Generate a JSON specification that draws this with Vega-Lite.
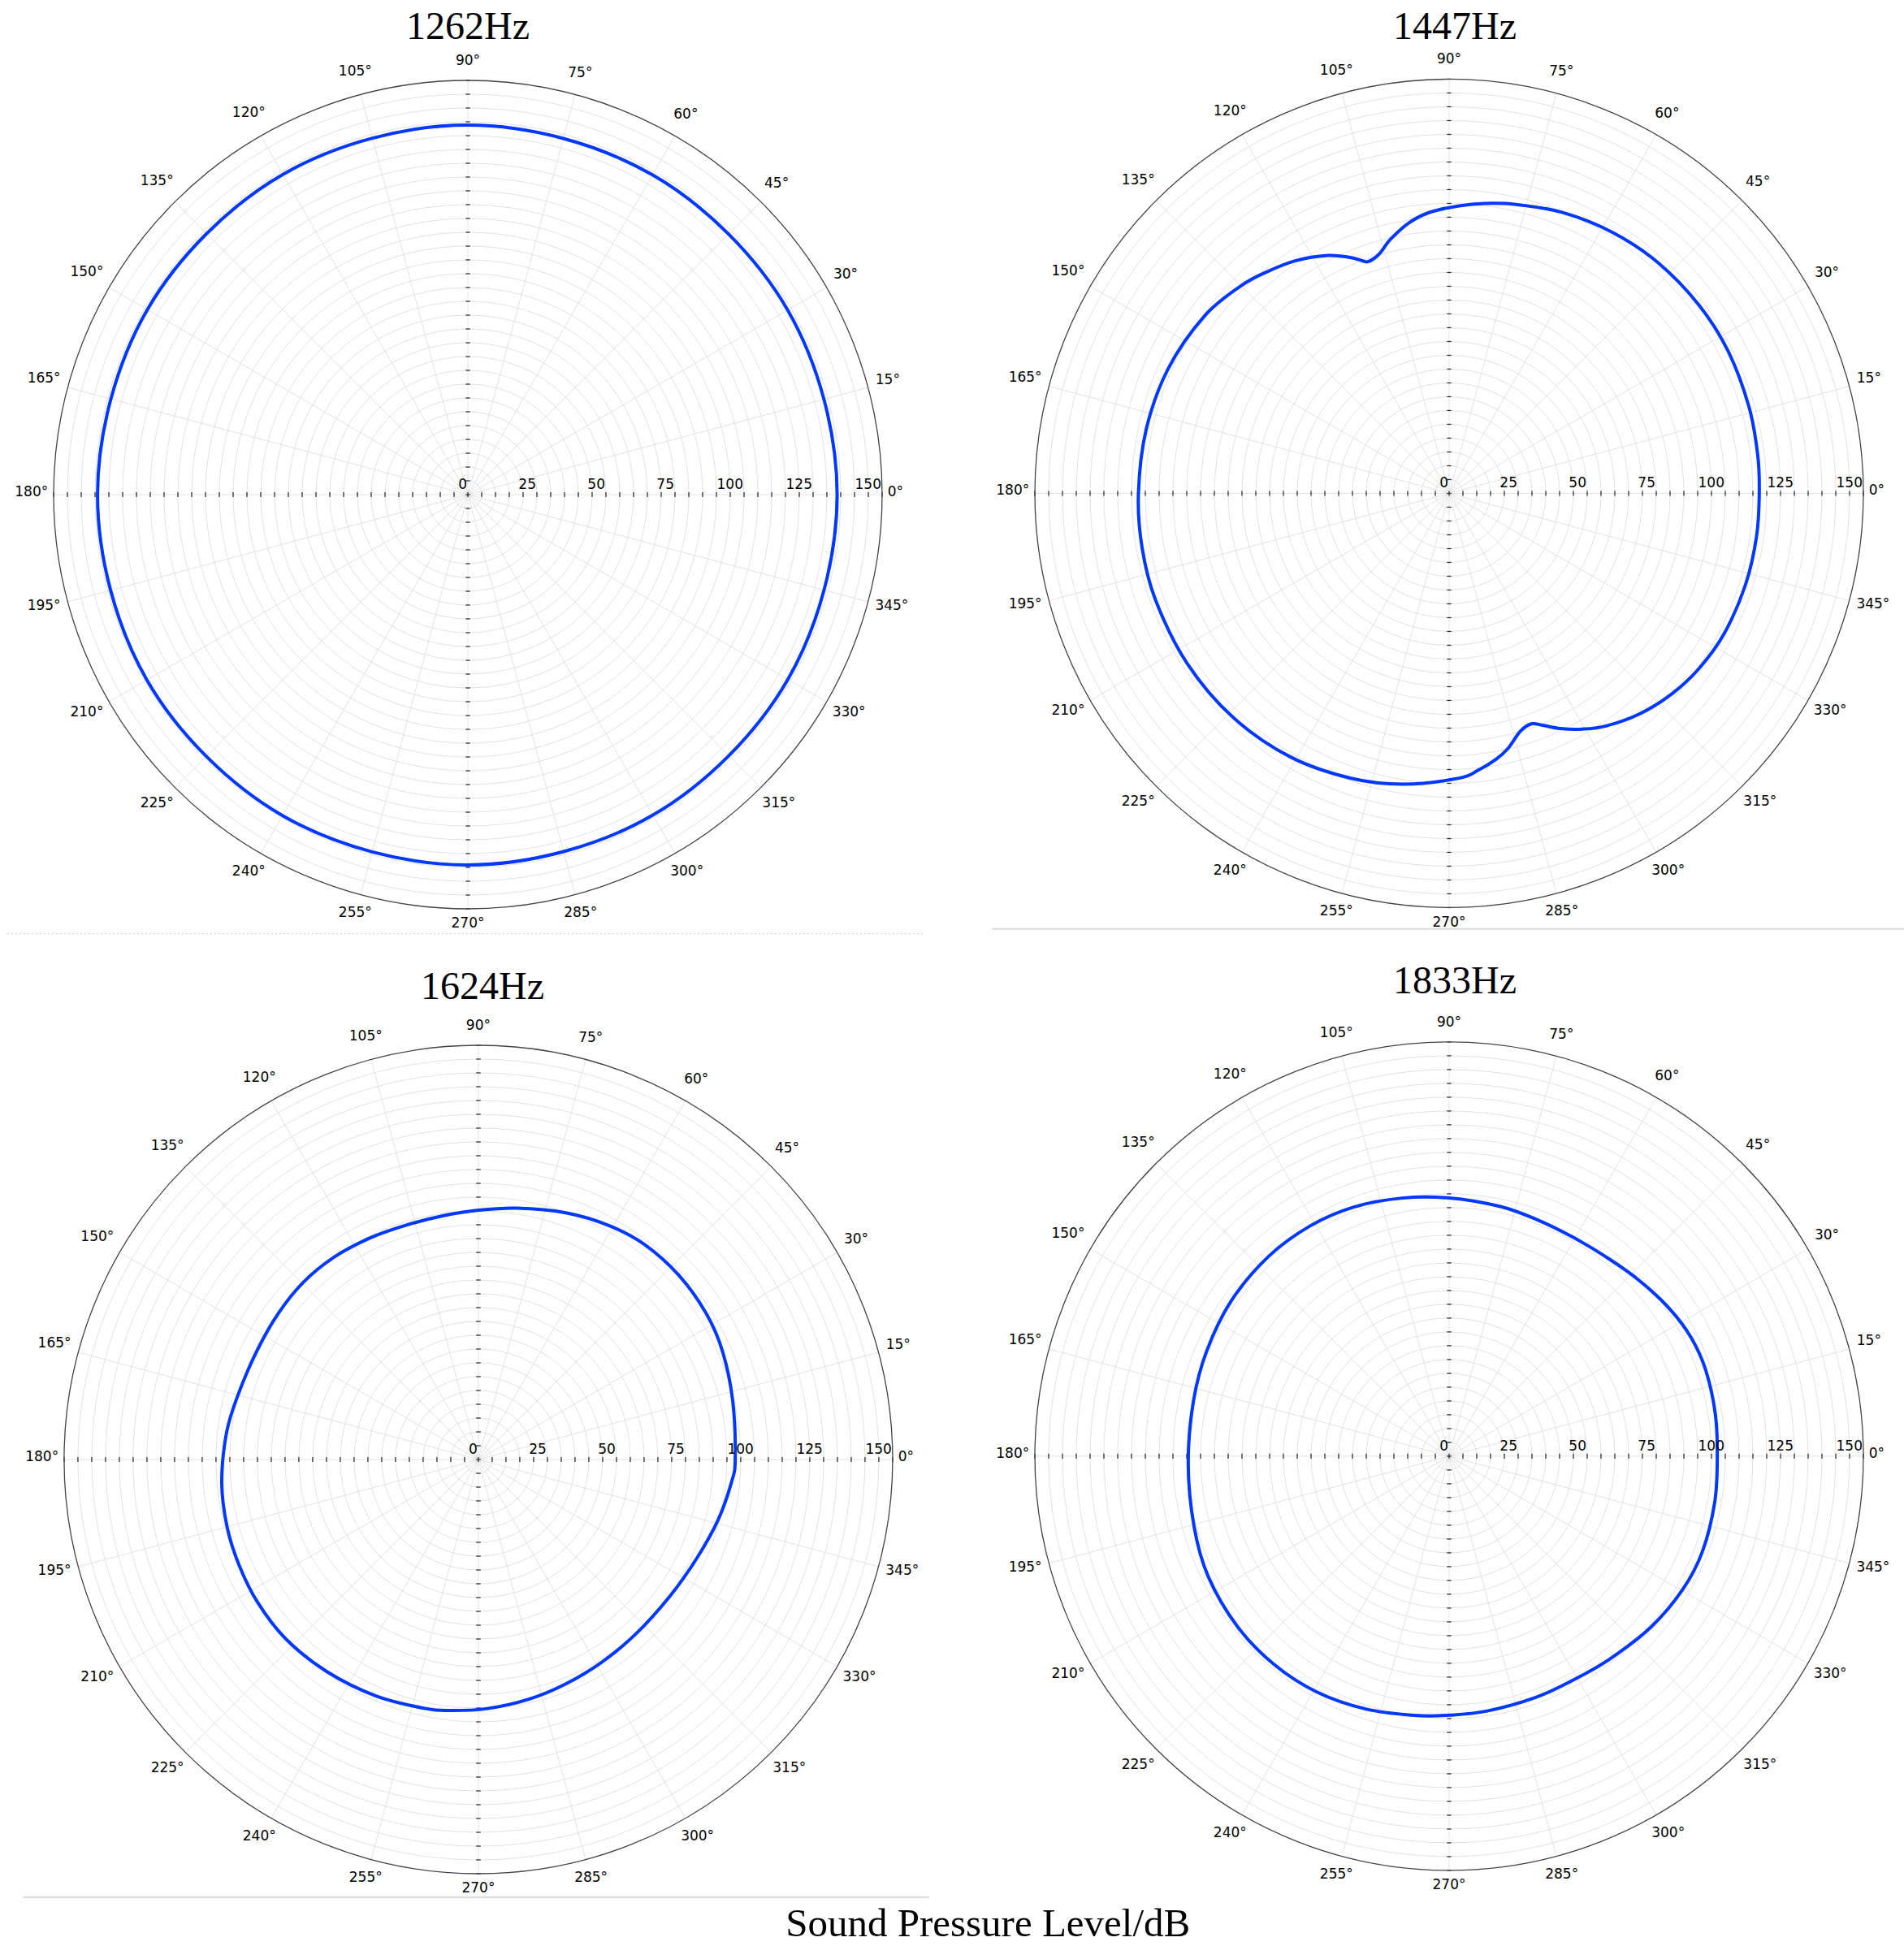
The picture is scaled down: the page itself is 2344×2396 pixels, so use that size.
{
"$schema": "https://vega.github.io/schema/vega-lite/v6.json",
"background": "white",
"padding": {"left": 8, "top": 10, "right": 0, "bottom": 4},
"config": {"view": {"stroke": null}},
"title": {"text": "Sound Pressure Level/dB", "orient": "bottom", "anchor": "middle", "font": "Liberation Serif", "fontSize": 49, "fontWeight": "normal", "color": "black", "baseline": "alphabetic", "offset": 47, "dx": 39},
"datasets": {
"rings": [{"r":5},{"r":10},{"r":15},{"r":20},{"r":25},{"r":30},{"r":35},{"r":40},{"r":45},{"r":50},{"r":55},{"r":60},{"r":65},{"r":70},{"r":75},{"r":80},{"r":85},{"r":90},{"r":95},{"r":100},{"r":105},{"r":110},{"r":115},{"r":120},{"r":125},{"r":130},{"r":135},{"r":140},{"r":145}],
"spokes": [{"a":0,"label":"0°"},{"a":15,"label":"15°"},{"a":30,"label":"30°"},{"a":45,"label":"45°"},{"a":60,"label":"60°"},{"a":75,"label":"75°"},{"a":90,"label":"90°"},{"a":105,"label":"105°"},{"a":120,"label":"120°"},{"a":135,"label":"135°"},{"a":150,"label":"150°"},{"a":165,"label":"165°"},{"a":180,"label":"180°"},{"a":195,"label":"195°"},{"a":210,"label":"210°"},{"a":225,"label":"225°"},{"a":240,"label":"240°"},{"a":255,"label":"255°"},{"a":270,"label":"270°"},{"a":285,"label":"285°"},{"a":300,"label":"300°"},{"a":315,"label":"315°"},{"a":330,"label":"330°"},{"a":345,"label":"345°"}],
"ticks": [{"v":-150},{"v":-145},{"v":-140},{"v":-135},{"v":-130},{"v":-125},{"v":-120},{"v":-115},{"v":-110},{"v":-105},{"v":-100},{"v":-95},{"v":-90},{"v":-85},{"v":-80},{"v":-75},{"v":-70},{"v":-65},{"v":-60},{"v":-55},{"v":-50},{"v":-45},{"v":-40},{"v":-35},{"v":-30},{"v":-25},{"v":-20},{"v":-15},{"v":-10},{"v":-5},{"v":0},{"v":5},{"v":10},{"v":15},{"v":20},{"v":25},{"v":30},{"v":35},{"v":40},{"v":45},{"v":50},{"v":55},{"v":60},{"v":65},{"v":70},{"v":75},{"v":80},{"v":85},{"v":90},{"v":95},{"v":100},{"v":105},{"v":110},{"v":115},{"v":120},{"v":125},{"v":130},{"v":135},{"v":140},{"v":145},{"v":150}],
"rlabels": [{"v":0,"label":"0"},{"v":25,"label":"25"},{"v":50,"label":"50"},{"v":75,"label":"75"},{"v":100,"label":"100"},{"v":125,"label":"125"},{"v":150,"label":"150"}],
"curves": [
{"freq":"1262Hz","angle":0,"spl":133.7},{"freq":"1262Hz","angle":30,"spl":133.7},{"freq":"1262Hz","angle":60,"spl":133.7},{"freq":"1262Hz","angle":90,"spl":133.8},{"freq":"1262Hz","angle":120,"spl":133.9},{"freq":"1262Hz","angle":150,"spl":134.0},{"freq":"1262Hz","angle":180,"spl":134.1},{"freq":"1262Hz","angle":210,"spl":134.2},{"freq":"1262Hz","angle":240,"spl":134.2},{"freq":"1262Hz","angle":270,"spl":134.1},{"freq":"1262Hz","angle":300,"spl":134.0},{"freq":"1262Hz","angle":330,"spl":133.8},
{"freq":"1447Hz","angle":0,"spl":112.3},{"freq":"1447Hz","angle":7,"spl":112.6},{"freq":"1447Hz","angle":16,"spl":113.0},{"freq":"1447Hz","angle":27,"spl":113.4},{"freq":"1447Hz","angle":37,"spl":113.3},{"freq":"1447Hz","angle":48,"spl":112.7},{"freq":"1447Hz","angle":58,"spl":111.5},{"freq":"1447Hz","angle":68,"spl":109.7},{"freq":"1447Hz","angle":77,"spl":107.4},{"freq":"1447Hz","angle":83,"spl":105.8},{"freq":"1447Hz","angle":88,"spl":104.2},{"freq":"1447Hz","angle":94,"spl":102.0},{"freq":"1447Hz","angle":98.5,"spl":99.0},{"freq":"1447Hz","angle":103,"spl":94.4},{"freq":"1447Hz","angle":106.4,"spl":90.2},{"freq":"1447Hz","angle":109.3,"spl":88.9},{"freq":"1447Hz","angle":111,"spl":90.6},{"freq":"1447Hz","angle":113,"spl":92.9},{"freq":"1447Hz","angle":117,"spl":96.7},{"freq":"1447Hz","angle":123.5,"spl":101.0},{"freq":"1447Hz","angle":129.5,"spl":103.9},{"freq":"1447Hz","angle":135,"spl":106.4},{"freq":"1447Hz","angle":144,"spl":109.4},{"freq":"1447Hz","angle":156,"spl":111.3},{"freq":"1447Hz","angle":168,"spl":112.1},{"freq":"1447Hz","angle":180,"spl":112.5},{"freq":"1447Hz","angle":190,"spl":112.9},{"freq":"1447Hz","angle":200,"spl":113.1},{"freq":"1447Hz","angle":213,"spl":113.1},{"freq":"1447Hz","angle":226,"spl":112.7},{"freq":"1447Hz","angle":239,"spl":111.4},{"freq":"1447Hz","angle":251,"spl":109.1},{"freq":"1447Hz","angle":261,"spl":106.6},{"freq":"1447Hz","angle":272,"spl":103.2},{"freq":"1447Hz","angle":276,"spl":100.8},{"freq":"1447Hz","angle":280,"spl":97.8},{"freq":"1447Hz","angle":283,"spl":94.8},{"freq":"1447Hz","angle":286.6,"spl":90.0},{"freq":"1447Hz","angle":289.6,"spl":88.6},{"freq":"1447Hz","angle":292,"spl":90.6},{"freq":"1447Hz","angle":295.3,"spl":94.2},{"freq":"1447Hz","angle":299.4,"spl":98.0},{"freq":"1447Hz","angle":304,"spl":101.6},{"freq":"1447Hz","angle":311,"spl":105.6},{"freq":"1447Hz","angle":318,"spl":108.5},{"freq":"1447Hz","angle":325,"spl":110.5},{"freq":"1447Hz","angle":333,"spl":111.8},{"freq":"1447Hz","angle":343,"spl":112.3},{"freq":"1447Hz","angle":352,"spl":112.4},
{"freq":"1624Hz","angle":0,"spl":93.0},{"freq":"1624Hz","angle":12.9,"spl":94.5},{"freq":"1624Hz","angle":23.9,"spl":96.7},{"freq":"1624Hz","angle":32.7,"spl":98.0},{"freq":"1624Hz","angle":42.6,"spl":98.6},{"freq":"1624Hz","angle":52.3,"spl":98.4},{"freq":"1624Hz","angle":61,"spl":97.0},{"freq":"1624Hz","angle":70.5,"spl":94.8},{"freq":"1624Hz","angle":81.3,"spl":92.1},{"freq":"1624Hz","angle":90,"spl":90.3},{"freq":"1624Hz","angle":98.1,"spl":89.2},{"freq":"1624Hz","angle":106.9,"spl":88.8},{"freq":"1624Hz","angle":116,"spl":89.3},{"freq":"1624Hz","angle":125.5,"spl":90.0},{"freq":"1624Hz","angle":134.6,"spl":90.2},{"freq":"1624Hz","angle":143.7,"spl":89.7},{"freq":"1624Hz","angle":153.8,"spl":89.3},{"freq":"1624Hz","angle":164.9,"spl":90.1},{"freq":"1624Hz","angle":173.9,"spl":91.7},{"freq":"1624Hz","angle":185.2,"spl":93.3},{"freq":"1624Hz","angle":195,"spl":94.2},{"freq":"1624Hz","angle":203.7,"spl":94.7},{"freq":"1624Hz","angle":212.8,"spl":95.2},{"freq":"1624Hz","angle":223,"spl":95.3},{"freq":"1624Hz","angle":234.5,"spl":94.4},{"freq":"1624Hz","angle":246.7,"spl":93.3},{"freq":"1624Hz","angle":258,"spl":92.2},{"freq":"1624Hz","angle":263.5,"spl":91.5},{"freq":"1624Hz","angle":271.8,"spl":90.3},{"freq":"1624Hz","angle":281.9,"spl":88.7},{"freq":"1624Hz","angle":291.3,"spl":87.2},{"freq":"1624Hz","angle":301.5,"spl":85.9},{"freq":"1624Hz","angle":312.1,"spl":85.1},{"freq":"1624Hz","angle":324.5,"spl":85.2},{"freq":"1624Hz","angle":335.7,"spl":86.8},{"freq":"1624Hz","angle":345.8,"spl":89.5},{"freq":"1624Hz","angle":354.8,"spl":92.0},
{"freq":"1833Hz","angle":0,"spl":97.1},{"freq":"1833Hz","angle":9.1,"spl":97.6},{"freq":"1833Hz","angle":18.6,"spl":98.0},{"freq":"1833Hz","angle":26,"spl":97.6},{"freq":"1833Hz","angle":33.5,"spl":96.1},{"freq":"1833Hz","angle":42.5,"spl":93.8},{"freq":"1833Hz","angle":50.8,"spl":92.0},{"freq":"1833Hz","angle":60.5,"spl":91.1},{"freq":"1833Hz","angle":69.9,"spl":91.4},{"freq":"1833Hz","angle":78.6,"spl":92.3},{"freq":"1833Hz","angle":90,"spl":93.5},{"freq":"1833Hz","angle":100.3,"spl":95.0},{"freq":"1833Hz","angle":110.9,"spl":96.6},{"freq":"1833Hz","angle":121.1,"spl":97.4},{"freq":"1833Hz","angle":132.2,"spl":97.5},{"freq":"1833Hz","angle":144.4,"spl":96.9},{"freq":"1833Hz","angle":156.4,"spl":95.7},{"freq":"1833Hz","angle":167.8,"spl":94.7},{"freq":"1833Hz","angle":181.7,"spl":94.5},{"freq":"1833Hz","angle":195.4,"spl":95.8},{"freq":"1833Hz","angle":206.5,"spl":97.5},{"freq":"1833Hz","angle":219,"spl":98.4},{"freq":"1833Hz","angle":230,"spl":98.5},{"freq":"1833Hz","angle":240.8,"spl":97.9},{"freq":"1833Hz","angle":251.7,"spl":96.4},{"freq":"1833Hz","angle":262.3,"spl":94.7},{"freq":"1833Hz","angle":270,"spl":93.8},{"freq":"1833Hz","angle":278.5,"spl":93.3},{"freq":"1833Hz","angle":289.9,"spl":92.8},{"freq":"1833Hz","angle":299.2,"spl":92.7},{"freq":"1833Hz","angle":308.4,"spl":93.7},{"freq":"1833Hz","angle":319.9,"spl":95.8},{"freq":"1833Hz","angle":330.3,"spl":97.4},{"freq":"1833Hz","angle":339.4,"spl":98.0},{"freq":"1833Hz","angle":350.3,"spl":97.6}
]
},
"columns": 2,
"spacing": {"column": 188, "row": 168},
"bounds": "flush",
"concat": [
{
"width": 1020, "height": 1020,
"title": {"text": "1262Hz", "font": "Liberation Serif", "fontSize": 48, "fontWeight": "normal", "color": "black", "baseline": "alphabetic", "anchor": "middle", "frame": "group", "offset": -30.5, "dx": 0},
"layer": [
{"data": {"name": "rings"}, "transform": [{"calculate": "0", "as": "o"}],
 "mark": {"type": "arc", "theta": 0, "theta2": 6.2832, "fillOpacity": 0, "stroke": "#e2e2e2", "strokeWidth": 1},
 "encoding": {"x": {"field": "o", "type": "quantitative", "scale": {"domain": [-150,150], "nice": false, "zero": false}, "axis": null},
  "y": {"field": "o", "type": "quantitative", "scale": {"domain": [-150,150], "nice": false, "zero": false}, "axis": null},
  "radius": {"field": "r", "type": "quantitative", "stack": null, "scale": {"type": "linear", "domain": [0,150], "range": [0,510], "nice": false}, "legend": null}}},
{"data": {"name": "spokes"}, "transform": [{"calculate": "0", "as": "o"}, {"calculate": "150*cos(datum.a*PI/180)", "as": "sx"}, {"calculate": "150*sin(datum.a*PI/180)", "as": "sy"}],
 "mark": {"type": "rule", "color": "#e2e2e2", "strokeWidth": 1},
 "encoding": {"x": {"field": "o", "type": "quantitative", "scale": {"domain": [-150,150], "nice": false, "zero": false}, "axis": null},
  "y": {"field": "o", "type": "quantitative", "scale": {"domain": [-150,150], "nice": false, "zero": false}, "axis": null},
  "x2": {"field": "sx"}, "y2": {"field": "sy"}}},
{"data": {"name": "ticks"}, "transform": [{"calculate": "-0.9", "as": "lo"}, {"calculate": "0.9", "as": "hi"}],
 "mark": {"type": "rule", "color": "#333333", "strokeWidth": 1.3},
 "encoding": {"x": {"field": "v", "type": "quantitative", "scale": {"domain": [-150,150], "nice": false, "zero": false}, "axis": null},
  "y": {"field": "lo", "type": "quantitative", "scale": {"domain": [-150,150], "nice": false, "zero": false}, "axis": null},
  "y2": {"field": "hi"}}},
{"data": {"name": "ticks"}, "transform": [{"calculate": "-0.8", "as": "lo"}, {"calculate": "0.8", "as": "hi"}],
 "mark": {"type": "rule", "color": "#333333", "strokeWidth": 1.3},
 "encoding": {"y": {"field": "v", "type": "quantitative", "scale": {"domain": [-150,150], "nice": false, "zero": false}, "axis": null},
  "x": {"field": "lo", "type": "quantitative", "scale": {"domain": [-150,150], "nice": false, "zero": false}, "axis": null},
  "x2": {"field": "hi"}}},
{"data": {"values": [{"r": 150}]}, "transform": [{"calculate": "0", "as": "o"}],
 "mark": {"type": "arc", "theta": 0, "theta2": 6.2832, "fillOpacity": 0, "stroke": "#444444", "strokeWidth": 1.3},
 "encoding": {"x": {"field": "o", "type": "quantitative", "scale": {"domain": [-150,150], "nice": false, "zero": false}, "axis": null},
  "y": {"field": "o", "type": "quantitative", "scale": {"domain": [-150,150], "nice": false, "zero": false}, "axis": null},
  "radius": {"field": "r", "type": "quantitative", "stack": null, "scale": {"type": "linear", "domain": [0,150], "range": [0,510], "nice": false}, "legend": null}}},
{"data": {"values": [{"from": -166.8, "to": 165.6, "at": -159}]},
 "mark": {"type": "rule", "color": "#c8c8c8", "strokeWidth": 1, "strokeDash": [2,3]},
 "encoding": {"x": {"field": "from", "type": "quantitative", "scale": {"domain": [-150,150], "nice": false, "zero": false}, "axis": null},
  "x2": {"field": "to"},
  "y": {"field": "at", "type": "quantitative", "scale": {"domain": [-150,150], "nice": false, "zero": false}, "axis": null}}},
{"data": {"name": "curves"}, "transform": [{"filter": "datum.freq === '1262Hz'"}, {"calculate": "datum.spl*cos(datum.angle*PI/180)", "as": "cx"}, {"calculate": "datum.spl*sin(datum.angle*PI/180)", "as": "cy"}],
 "mark": {"type": "line", "interpolate": "cardinal-closed", "color": "#0038ff", "strokeWidth": 4},
 "encoding": {"x": {"field": "cx", "type": "quantitative", "scale": {"domain": [-150,150], "nice": false, "zero": false}, "axis": null},
  "y": {"field": "cy", "type": "quantitative", "scale": {"domain": [-150,150], "nice": false, "zero": false}, "axis": null},
  "order": {"field": "angle", "type": "quantitative"}}},
{"data": {"name": "spokes"}, "transform": [{"calculate": "datum.a*PI/180", "as": "rad"}, {"calculate": "152 + abs(cos(datum.rad))*((length(datum.label)-1)*1.59+1.25) + abs(sin(datum.rad))*4.2", "as": "d"}, {"calculate": "datum.d*cos(datum.rad)", "as": "lx"}, {"calculate": "datum.d*sin(datum.rad)", "as": "ly"}],
 "mark": {"type": "text", "font": "DejaVu Sans", "fontSize": 17, "color": "black", "align": "center", "baseline": "middle", "dy": -3},
 "encoding": {"x": {"field": "lx", "type": "quantitative", "scale": {"domain": [-150,150], "nice": false, "zero": false}, "axis": null},
  "y": {"field": "ly", "type": "quantitative", "scale": {"domain": [-150,150], "nice": false, "zero": false}, "axis": null},
  "text": {"field": "label", "type": "nominal"}}},
{"data": {"name": "rlabels"}, "transform": [{"calculate": "0", "as": "o"}],
 "mark": {"type": "text", "font": "DejaVu Sans", "fontSize": 17, "color": "black", "align": "right", "baseline": "alphabetic", "dx": -1, "dy": -7},
 "encoding": {"x": {"field": "v", "type": "quantitative", "scale": {"domain": [-150,150], "nice": false, "zero": false}, "axis": null},
  "y": {"field": "o", "type": "quantitative", "scale": {"domain": [-150,150], "nice": false, "zero": false}, "axis": null},
  "text": {"field": "label", "type": "nominal"}}}
]
},
{
"width": 1020, "height": 1020,
"title": {"text": "1447Hz", "font": "Liberation Serif", "fontSize": 48, "fontWeight": "normal", "color": "black", "baseline": "alphabetic", "anchor": "middle", "frame": "group", "offset": -32, "dx": 7},
"layer": [
{"data": {"name": "rings"}, "transform": [{"calculate": "0", "as": "o"}],
 "mark": {"type": "arc", "theta": 0, "theta2": 6.2832, "fillOpacity": 0, "stroke": "#e2e2e2", "strokeWidth": 1},
 "encoding": {"x": {"field": "o", "type": "quantitative", "scale": {"domain": [-150,150], "nice": false, "zero": false}, "axis": null},
  "y": {"field": "o", "type": "quantitative", "scale": {"domain": [-150.45,149.55], "nice": false, "zero": false}, "axis": null},
  "radius": {"field": "r", "type": "quantitative", "stack": null, "scale": {"type": "linear", "domain": [0,150], "range": [0,510], "nice": false}, "legend": null}}},
{"data": {"name": "spokes"}, "transform": [{"calculate": "0", "as": "o"}, {"calculate": "150*cos(datum.a*PI/180)", "as": "sx"}, {"calculate": "150*sin(datum.a*PI/180)", "as": "sy"}],
 "mark": {"type": "rule", "color": "#e2e2e2", "strokeWidth": 1},
 "encoding": {"x": {"field": "o", "type": "quantitative", "scale": {"domain": [-150,150], "nice": false, "zero": false}, "axis": null},
  "y": {"field": "o", "type": "quantitative", "scale": {"domain": [-150.45,149.55], "nice": false, "zero": false}, "axis": null},
  "x2": {"field": "sx"}, "y2": {"field": "sy"}}},
{"data": {"name": "ticks"}, "transform": [{"calculate": "-0.9", "as": "lo"}, {"calculate": "0.9", "as": "hi"}],
 "mark": {"type": "rule", "color": "#333333", "strokeWidth": 1.3},
 "encoding": {"x": {"field": "v", "type": "quantitative", "scale": {"domain": [-150,150], "nice": false, "zero": false}, "axis": null},
  "y": {"field": "lo", "type": "quantitative", "scale": {"domain": [-150.45,149.55], "nice": false, "zero": false}, "axis": null},
  "y2": {"field": "hi"}}},
{"data": {"name": "ticks"}, "transform": [{"calculate": "-0.8", "as": "lo"}, {"calculate": "0.8", "as": "hi"}],
 "mark": {"type": "rule", "color": "#333333", "strokeWidth": 1.3},
 "encoding": {"y": {"field": "v", "type": "quantitative", "scale": {"domain": [-150.45,149.55], "nice": false, "zero": false}, "axis": null},
  "x": {"field": "lo", "type": "quantitative", "scale": {"domain": [-150,150], "nice": false, "zero": false}, "axis": null},
  "x2": {"field": "hi"}}},
{"data": {"values": [{"r": 150}]}, "transform": [{"calculate": "0", "as": "o"}],
 "mark": {"type": "arc", "theta": 0, "theta2": 6.2832, "fillOpacity": 0, "stroke": "#444444", "strokeWidth": 1.3},
 "encoding": {"x": {"field": "o", "type": "quantitative", "scale": {"domain": [-150,150], "nice": false, "zero": false}, "axis": null},
  "y": {"field": "o", "type": "quantitative", "scale": {"domain": [-150.45,149.55], "nice": false, "zero": false}, "axis": null},
  "radius": {"field": "r", "type": "quantitative", "stack": null, "scale": {"type": "linear", "domain": [0,150], "range": [0,510], "nice": false}, "legend": null}}},
{"data": {"values": [{"from": -165.6, "to": 165, "at": -157.7}]},
 "mark": {"type": "rule", "color": "#dcdcdc", "strokeWidth": 2},
 "encoding": {"x": {"field": "from", "type": "quantitative", "scale": {"domain": [-150,150], "nice": false, "zero": false}, "axis": null},
  "x2": {"field": "to"},
  "y": {"field": "at", "type": "quantitative", "scale": {"domain": [-150.45,149.55], "nice": false, "zero": false}, "axis": null}}},
{"data": {"name": "curves"}, "transform": [{"filter": "datum.freq === '1447Hz'"}, {"calculate": "datum.spl*cos(datum.angle*PI/180)", "as": "cx"}, {"calculate": "datum.spl*sin(datum.angle*PI/180)", "as": "cy"}],
 "mark": {"type": "line", "interpolate": "cardinal-closed", "color": "#0038ff", "strokeWidth": 4},
 "encoding": {"x": {"field": "cx", "type": "quantitative", "scale": {"domain": [-150,150], "nice": false, "zero": false}, "axis": null},
  "y": {"field": "cy", "type": "quantitative", "scale": {"domain": [-150.45,149.55], "nice": false, "zero": false}, "axis": null},
  "order": {"field": "angle", "type": "quantitative"}}},
{"data": {"name": "spokes"}, "transform": [{"calculate": "datum.a*PI/180", "as": "rad"}, {"calculate": "152 + abs(cos(datum.rad))*((length(datum.label)-1)*1.59+1.25) + abs(sin(datum.rad))*4.2", "as": "d"}, {"calculate": "datum.d*cos(datum.rad)", "as": "lx"}, {"calculate": "datum.d*sin(datum.rad)", "as": "ly"}],
 "mark": {"type": "text", "font": "DejaVu Sans", "fontSize": 17, "color": "black", "align": "center", "baseline": "middle", "dy": -3},
 "encoding": {"x": {"field": "lx", "type": "quantitative", "scale": {"domain": [-150,150], "nice": false, "zero": false}, "axis": null},
  "y": {"field": "ly", "type": "quantitative", "scale": {"domain": [-150.45,149.55], "nice": false, "zero": false}, "axis": null},
  "text": {"field": "label", "type": "nominal"}}},
{"data": {"name": "rlabels"}, "transform": [{"calculate": "0", "as": "o"}],
 "mark": {"type": "text", "font": "DejaVu Sans", "fontSize": 17, "color": "black", "align": "right", "baseline": "alphabetic", "dx": -1, "dy": -7},
 "encoding": {"x": {"field": "v", "type": "quantitative", "scale": {"domain": [-150,150], "nice": false, "zero": false}, "axis": null},
  "y": {"field": "o", "type": "quantitative", "scale": {"domain": [-150.45,149.55], "nice": false, "zero": false}, "axis": null},
  "text": {"field": "label", "type": "nominal"}}}
]
},
{
"width": 1020, "height": 1020,
"title": {"text": "1624Hz", "font": "Liberation Serif", "fontSize": 48, "fontWeight": "normal", "color": "black", "baseline": "alphabetic", "anchor": "middle", "frame": "group", "offset": -24.5, "dx": 18},
"layer": [
{"data": {"name": "rings"}, "transform": [{"calculate": "0", "as": "o"}],
 "mark": {"type": "arc", "theta": 0, "theta2": 6.2832, "fillOpacity": 0, "stroke": "#e2e2e2", "strokeWidth": 1},
 "encoding": {"x": {"field": "o", "type": "quantitative", "scale": {"domain": [-153.8,146.2], "nice": false, "zero": false}, "axis": null},
  "y": {"field": "o", "type": "quantitative", "scale": {"domain": [-150,150], "nice": false, "zero": false}, "axis": null},
  "radius": {"field": "r", "type": "quantitative", "stack": null, "scale": {"type": "linear", "domain": [0,150], "range": [0,510], "nice": false}, "legend": null}}},
{"data": {"name": "spokes"}, "transform": [{"calculate": "0", "as": "o"}, {"calculate": "150*cos(datum.a*PI/180)", "as": "sx"}, {"calculate": "150*sin(datum.a*PI/180)", "as": "sy"}],
 "mark": {"type": "rule", "color": "#e2e2e2", "strokeWidth": 1},
 "encoding": {"x": {"field": "o", "type": "quantitative", "scale": {"domain": [-153.8,146.2], "nice": false, "zero": false}, "axis": null},
  "y": {"field": "o", "type": "quantitative", "scale": {"domain": [-150,150], "nice": false, "zero": false}, "axis": null},
  "x2": {"field": "sx"}, "y2": {"field": "sy"}}},
{"data": {"name": "ticks"}, "transform": [{"calculate": "-0.9", "as": "lo"}, {"calculate": "0.9", "as": "hi"}],
 "mark": {"type": "rule", "color": "#333333", "strokeWidth": 1.3},
 "encoding": {"x": {"field": "v", "type": "quantitative", "scale": {"domain": [-153.8,146.2], "nice": false, "zero": false}, "axis": null},
  "y": {"field": "lo", "type": "quantitative", "scale": {"domain": [-150,150], "nice": false, "zero": false}, "axis": null},
  "y2": {"field": "hi"}}},
{"data": {"name": "ticks"}, "transform": [{"calculate": "-0.8", "as": "lo"}, {"calculate": "0.8", "as": "hi"}],
 "mark": {"type": "rule", "color": "#333333", "strokeWidth": 1.3},
 "encoding": {"y": {"field": "v", "type": "quantitative", "scale": {"domain": [-150,150], "nice": false, "zero": false}, "axis": null},
  "x": {"field": "lo", "type": "quantitative", "scale": {"domain": [-153.8,146.2], "nice": false, "zero": false}, "axis": null},
  "x2": {"field": "hi"}}},
{"data": {"values": [{"r": 150}]}, "transform": [{"calculate": "0", "as": "o"}],
 "mark": {"type": "arc", "theta": 0, "theta2": 6.2832, "fillOpacity": 0, "stroke": "#444444", "strokeWidth": 1.3},
 "encoding": {"x": {"field": "o", "type": "quantitative", "scale": {"domain": [-153.8,146.2], "nice": false, "zero": false}, "axis": null},
  "y": {"field": "o", "type": "quantitative", "scale": {"domain": [-150,150], "nice": false, "zero": false}, "axis": null},
  "radius": {"field": "r", "type": "quantitative", "stack": null, "scale": {"type": "linear", "domain": [0,150], "range": [0,510], "nice": false}, "legend": null}}},
{"data": {"values": [{"from": -165, "to": 163.2, "at": -158.5}]},
 "mark": {"type": "rule", "color": "#dcdcdc", "strokeWidth": 2},
 "encoding": {"x": {"field": "from", "type": "quantitative", "scale": {"domain": [-153.8,146.2], "nice": false, "zero": false}, "axis": null},
  "x2": {"field": "to"},
  "y": {"field": "at", "type": "quantitative", "scale": {"domain": [-150,150], "nice": false, "zero": false}, "axis": null}}},
{"data": {"name": "curves"}, "transform": [{"filter": "datum.freq === '1624Hz'"}, {"calculate": "datum.spl*cos(datum.angle*PI/180)", "as": "cx"}, {"calculate": "datum.spl*sin(datum.angle*PI/180)", "as": "cy"}],
 "mark": {"type": "line", "interpolate": "cardinal-closed", "color": "#0038ff", "strokeWidth": 4},
 "encoding": {"x": {"field": "cx", "type": "quantitative", "scale": {"domain": [-153.8,146.2], "nice": false, "zero": false}, "axis": null},
  "y": {"field": "cy", "type": "quantitative", "scale": {"domain": [-150,150], "nice": false, "zero": false}, "axis": null},
  "order": {"field": "angle", "type": "quantitative"}}},
{"data": {"name": "spokes"}, "transform": [{"calculate": "datum.a*PI/180", "as": "rad"}, {"calculate": "152 + abs(cos(datum.rad))*((length(datum.label)-1)*1.59+1.25) + abs(sin(datum.rad))*4.2", "as": "d"}, {"calculate": "datum.d*cos(datum.rad)", "as": "lx"}, {"calculate": "datum.d*sin(datum.rad)", "as": "ly"}],
 "mark": {"type": "text", "font": "DejaVu Sans", "fontSize": 17, "color": "black", "align": "center", "baseline": "middle", "dy": -3},
 "encoding": {"x": {"field": "lx", "type": "quantitative", "scale": {"domain": [-153.8,146.2], "nice": false, "zero": false}, "axis": null},
  "y": {"field": "ly", "type": "quantitative", "scale": {"domain": [-150,150], "nice": false, "zero": false}, "axis": null},
  "text": {"field": "label", "type": "nominal"}}},
{"data": {"name": "rlabels"}, "transform": [{"calculate": "0", "as": "o"}],
 "mark": {"type": "text", "font": "DejaVu Sans", "fontSize": 17, "color": "black", "align": "right", "baseline": "alphabetic", "dx": -1, "dy": -7},
 "encoding": {"x": {"field": "v", "type": "quantitative", "scale": {"domain": [-153.8,146.2], "nice": false, "zero": false}, "axis": null},
  "y": {"field": "o", "type": "quantitative", "scale": {"domain": [-150,150], "nice": false, "zero": false}, "axis": null},
  "text": {"field": "label", "type": "nominal"}}}
]
},
{
"width": 1020, "height": 1020,
"title": {"text": "1833Hz", "font": "Liberation Serif", "fontSize": 48, "fontWeight": "normal", "color": "black", "baseline": "alphabetic", "anchor": "middle", "frame": "group", "offset": -21.5, "dx": 7},
"layer": [
{"data": {"name": "rings"}, "transform": [{"calculate": "0", "as": "o"}],
 "mark": {"type": "arc", "theta": 0, "theta2": 6.2832, "fillOpacity": 0, "stroke": "#e2e2e2", "strokeWidth": 1},
 "encoding": {"x": {"field": "o", "type": "quantitative", "scale": {"domain": [-150,150], "nice": false, "zero": false}, "axis": null},
  "y": {"field": "o", "type": "quantitative", "scale": {"domain": [-151.2,148.8], "nice": false, "zero": false}, "axis": null},
  "radius": {"field": "r", "type": "quantitative", "stack": null, "scale": {"type": "linear", "domain": [0,150], "range": [0,510], "nice": false}, "legend": null}}},
{"data": {"name": "spokes"}, "transform": [{"calculate": "0", "as": "o"}, {"calculate": "150*cos(datum.a*PI/180)", "as": "sx"}, {"calculate": "150*sin(datum.a*PI/180)", "as": "sy"}],
 "mark": {"type": "rule", "color": "#e2e2e2", "strokeWidth": 1},
 "encoding": {"x": {"field": "o", "type": "quantitative", "scale": {"domain": [-150,150], "nice": false, "zero": false}, "axis": null},
  "y": {"field": "o", "type": "quantitative", "scale": {"domain": [-151.2,148.8], "nice": false, "zero": false}, "axis": null},
  "x2": {"field": "sx"}, "y2": {"field": "sy"}}},
{"data": {"name": "ticks"}, "transform": [{"calculate": "-0.9", "as": "lo"}, {"calculate": "0.9", "as": "hi"}],
 "mark": {"type": "rule", "color": "#333333", "strokeWidth": 1.3},
 "encoding": {"x": {"field": "v", "type": "quantitative", "scale": {"domain": [-150,150], "nice": false, "zero": false}, "axis": null},
  "y": {"field": "lo", "type": "quantitative", "scale": {"domain": [-151.2,148.8], "nice": false, "zero": false}, "axis": null},
  "y2": {"field": "hi"}}},
{"data": {"name": "ticks"}, "transform": [{"calculate": "-0.8", "as": "lo"}, {"calculate": "0.8", "as": "hi"}],
 "mark": {"type": "rule", "color": "#333333", "strokeWidth": 1.3},
 "encoding": {"y": {"field": "v", "type": "quantitative", "scale": {"domain": [-151.2,148.8], "nice": false, "zero": false}, "axis": null},
  "x": {"field": "lo", "type": "quantitative", "scale": {"domain": [-150,150], "nice": false, "zero": false}, "axis": null},
  "x2": {"field": "hi"}}},
{"data": {"values": [{"r": 150}]}, "transform": [{"calculate": "0", "as": "o"}],
 "mark": {"type": "arc", "theta": 0, "theta2": 6.2832, "fillOpacity": 0, "stroke": "#444444", "strokeWidth": 1.3},
 "encoding": {"x": {"field": "o", "type": "quantitative", "scale": {"domain": [-150,150], "nice": false, "zero": false}, "axis": null},
  "y": {"field": "o", "type": "quantitative", "scale": {"domain": [-151.2,148.8], "nice": false, "zero": false}, "axis": null},
  "radius": {"field": "r", "type": "quantitative", "stack": null, "scale": {"type": "linear", "domain": [0,150], "range": [0,510], "nice": false}, "legend": null}}},
{"data": {"name": "curves"}, "transform": [{"filter": "datum.freq === '1833Hz'"}, {"calculate": "datum.spl*cos(datum.angle*PI/180)", "as": "cx"}, {"calculate": "datum.spl*sin(datum.angle*PI/180)", "as": "cy"}],
 "mark": {"type": "line", "interpolate": "cardinal-closed", "color": "#0038ff", "strokeWidth": 4},
 "encoding": {"x": {"field": "cx", "type": "quantitative", "scale": {"domain": [-150,150], "nice": false, "zero": false}, "axis": null},
  "y": {"field": "cy", "type": "quantitative", "scale": {"domain": [-151.2,148.8], "nice": false, "zero": false}, "axis": null},
  "order": {"field": "angle", "type": "quantitative"}}},
{"data": {"name": "spokes"}, "transform": [{"calculate": "datum.a*PI/180", "as": "rad"}, {"calculate": "152 + abs(cos(datum.rad))*((length(datum.label)-1)*1.59+1.25) + abs(sin(datum.rad))*4.2", "as": "d"}, {"calculate": "datum.d*cos(datum.rad)", "as": "lx"}, {"calculate": "datum.d*sin(datum.rad)", "as": "ly"}],
 "mark": {"type": "text", "font": "DejaVu Sans", "fontSize": 17, "color": "black", "align": "center", "baseline": "middle", "dy": -3},
 "encoding": {"x": {"field": "lx", "type": "quantitative", "scale": {"domain": [-150,150], "nice": false, "zero": false}, "axis": null},
  "y": {"field": "ly", "type": "quantitative", "scale": {"domain": [-151.2,148.8], "nice": false, "zero": false}, "axis": null},
  "text": {"field": "label", "type": "nominal"}}},
{"data": {"name": "rlabels"}, "transform": [{"calculate": "0", "as": "o"}],
 "mark": {"type": "text", "font": "DejaVu Sans", "fontSize": 17, "color": "black", "align": "right", "baseline": "alphabetic", "dx": -1, "dy": -7},
 "encoding": {"x": {"field": "v", "type": "quantitative", "scale": {"domain": [-150,150], "nice": false, "zero": false}, "axis": null},
  "y": {"field": "o", "type": "quantitative", "scale": {"domain": [-151.2,148.8], "nice": false, "zero": false}, "axis": null},
  "text": {"field": "label", "type": "nominal"}}}
]
}
]
}
